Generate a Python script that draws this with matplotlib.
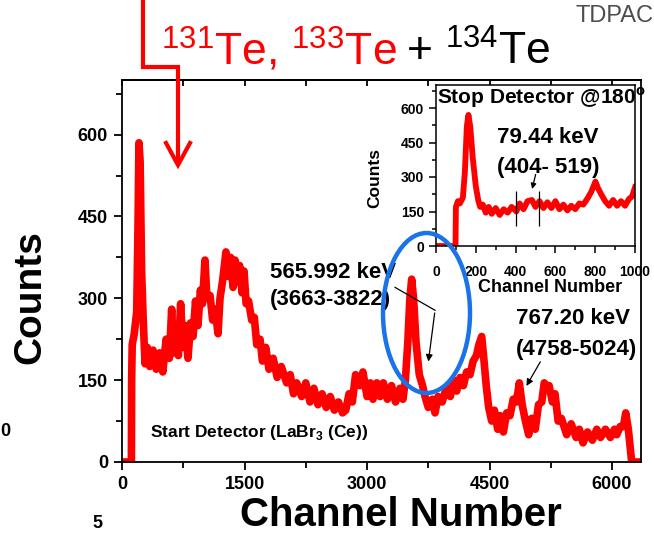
import numpy as np
import matplotlib
matplotlib.use("Agg")
from matplotlib import pyplot as plt
from matplotlib.ticker import MultipleLocator
from matplotlib.patches import Ellipse
from matplotlib.lines import Line2D

plt.rcParams['font.family'] = ['Liberation Sans', 'DejaVu Sans']
plt.rcParams['mathtext.fontset'] = 'custom'
plt.rcParams['mathtext.rm'] = 'Liberation Sans'
plt.rcParams['mathtext.bf'] = 'Liberation Sans:bold'

# start detector (LaBr3(Ce)) spectrum
start_channel = [0, 115, 118, 125, 150, 180, 195, 208, 222, 240, 260, 282, 310, 340, 380, 420,
                 460, 500, 540, 580, 608, 630, 660, 690, 718, 745, 775, 808, 840, 870, 900, 930,
                 960, 985, 1016, 1040, 1078, 1110, 1140, 1176, 1200, 1230, 1273, 1300, 1330, 1360,
                 1384, 1410, 1440, 1470, 1494, 1520, 1550, 1588, 1620, 1650, 1690, 1720, 1760, 1800,
                 1851, 1900, 1950, 2016, 2060, 2100, 2139, 2200, 2250, 2302, 2350, 2400, 2450, 2500,
                 2550, 2600, 2650, 2700, 2740, 2780, 2820, 2860, 2914, 2950, 3000, 3040, 3073, 3120,
                 3160, 3200, 3250, 3300, 3350, 3404, 3440, 3470, 3500, 3525, 3547, 3570, 3600, 3640,
                 3680, 3710, 3750, 3800, 3833, 3870, 3920, 3970, 4020, 4060, 4098, 4140, 4180, 4220,
                 4261, 4300, 4340, 4370, 4404, 4430, 4460, 4490, 4527, 4560, 4600, 4629, 4670, 4710,
                 4751, 4790, 4830, 4865, 4900, 4940, 4980, 5017, 5060, 5100, 5140, 5170, 5192, 5230,
                 5270, 5302, 5340, 5380, 5445, 5500, 5560, 5600, 5645, 5700, 5760, 5813, 5860, 5920,
                 5980, 6030, 6058, 6100, 6140, 6168, 6200, 6230, 6241, 6260, 6350]
start_counts = [0, 0, 150, 215, 235, 275, 420, 585, 550, 350, 260, 180, 210, 175, 205, 170,
                200, 165, 225, 190, 280, 200, 245, 195, 290, 210, 250, 190, 255, 230, 295, 250,
                315, 290, 370, 300, 305, 260, 280, 235, 300, 330, 385, 340, 375, 320,
                370, 330, 360, 310, 350, 290, 295, 260, 265, 215, 225, 185, 210, 170,
                190, 155, 175, 145, 160, 125, 145, 120, 145, 110, 135, 105, 125, 100,
                120, 95, 110, 90, 95, 125, 110, 160, 140, 165, 120, 145, 115, 145,
                120, 145, 115, 140, 110, 135, 115, 150, 220, 300, 335, 300, 220, 160,
                140, 120, 100, 115, 90, 120, 110, 135, 120, 150, 130, 155, 140, 165,
                160, 185, 195, 215, 230, 190, 140, 100, 75, 95, 60, 85, 55, 90,
                85, 115, 110, 145, 105, 75, 50, 80, 60, 105, 110, 145, 140, 140,
                110, 125, 75, 80, 50, 70, 45, 60, 35, 55, 40, 60, 45, 60,
                45, 60, 50, 65, 65, 90, 60, 15, 0, 0, 0]

# stop detector @180 deg spectrum (inset)
stop_channel = [0, 98, 100, 110, 120, 135, 145, 155, 163, 172, 185, 200, 212, 222, 235, 250,
                265, 280, 300, 320, 340, 360, 380, 404, 420, 440, 460, 482, 500, 520, 540, 560,
                580, 600, 620, 640, 660, 680, 700, 720, 740, 760, 780, 801, 815, 830, 850, 870,
                890, 910, 930, 950, 970, 985, 1000]
stop_counts = [0, 0, 170, 195, 185, 210, 320, 520, 570, 520, 380, 260, 200, 170, 180, 145,
               170, 140, 165, 135, 160, 145, 170, 150, 185, 160, 195, 200, 170, 195, 165, 190,
               165, 195, 160, 180, 155, 175, 160, 185, 180, 205, 235, 280, 250, 225, 195, 175,
               200, 175, 195, 175, 205, 215, 255]

gate_lo, gate_hi = 404, 519

W, H = 654, 534


def fx(px):
    return px / W


def fy(py):
    return 1 - py / H


fig = plt.figure(figsize=(W / 100, H / 100), dpi=100)

# main axes
ax = fig.add_axes([fx(122), fy(462), (641 - 122) / W, (462 - 80) / H])
ax.plot(start_channel, start_counts, color='red', lw=5.5, solid_joinstyle='round')
ax.set_xlim(0, 6355)
ax.set_ylim(0, 700)
ax.xaxis.set_major_locator(MultipleLocator(1500))
ax.xaxis.set_minor_locator(MultipleLocator(750))
ax.yaxis.set_major_locator(MultipleLocator(150))
ax.yaxis.set_minor_locator(MultipleLocator(75))
ax.tick_params(which='both', direction='out', width=1.3, labelsize=13, pad=4)
ax.tick_params(which='major', length=6)
ax.tick_params(which='minor', length=4)
for lbl in ax.get_xticklabels() + ax.get_yticklabels():
    lbl.set_fontweight('bold')
for sp in ax.spines.values():
    sp.set_linewidth(1.3)
top = ax.secondary_xaxis('top')
top.xaxis.set_major_locator(MultipleLocator(750))
top.tick_params(direction='in', length=4, width=1.3, labeltop=False)
top.spines['top'].set_linewidth(1.3)

fig.text(fx(30), fy(297), 'Counts', rotation=90, fontsize=28, fontweight='bold',
         ha='center', va='center')
fig.text(fx(401), fy(515), 'Channel Number', fontsize=29, fontweight='bold',
         ha='center', va='center')

fig.text(fx(150), fy(432), r'Start Detector (LaBr$_\mathbf{3}$ (Ce))', fontsize=12.5,
         fontweight='bold', ha='left', va='center')

# peak labels
fig.text(fx(270), fy(272), '565.992 keV', fontsize=16, fontweight='bold', va='center')
fig.text(fx(270), fy(300), '(3663-3822)', fontsize=16, fontweight='bold', va='center')
fig.text(fx(516), fy(318), '767.20 keV', fontsize=16, fontweight='bold', va='center')
fig.text(fx(516), fy(350), '(4758-5024)', fontsize=16, fontweight='bold', va='center')

ax.plot([3343, 3833], [320, 278], color='black', lw=0.9, clip_on=False, zorder=5)
ax.annotate('', xy=(3747, 179), xytext=(3833, 278),
            arrowprops=dict(arrowstyle='-|>', color='black', lw=0.9, mutation_scale=10))
ax.annotate('', xy=(4935, 135), xytext=(5139, 188),
            arrowprops=dict(arrowstyle='-|>', color='black', lw=0.9, mutation_scale=10))

# inset
ins = fig.add_axes([fx(436), fy(246), (635 - 436) / W, (246 - 85) / H])
ins.plot(stop_channel, stop_counts, color='red', lw=4.2, solid_joinstyle='round')
ins.set_xlim(0, 1000)
ins.set_ylim(0, 700)
ins.xaxis.set_major_locator(MultipleLocator(200))
ins.xaxis.set_minor_locator(MultipleLocator(100))
ins.yaxis.set_major_locator(MultipleLocator(150))
ins.yaxis.set_minor_locator(MultipleLocator(75))
ins.tick_params(which='both', direction='out', width=1.1, labelsize=10)
ins.tick_params(axis='x', which='both', pad=9)
ins.tick_params(which='major', length=5)
ins.tick_params(which='minor', length=3)
for lbl in ins.get_xticklabels() + ins.get_yticklabels():
    lbl.set_fontweight('bold')
for sp in ins.spines.values():
    sp.set_linewidth(1.1)
ins.vlines([gate_lo, gate_hi], 85, 240, color='black', lw=0.9)
ins.annotate('', xy=(480, 236), xytext=(504, 323),
             arrowprops=dict(arrowstyle='-|>', color='black', lw=0.9, mutation_scale=8))
fig.text(fx(437), fy(98), r'Stop Detector @180$^\mathbf{o}$', fontsize=15,
         fontweight='bold', ha='left', va='center')
fig.text(fx(548), fy(137), '79.44 keV', fontsize=16, fontweight='bold', ha='center', va='center')
fig.text(fx(548), fy(167), '(404- 519)', fontsize=16, fontweight='bold', ha='center', va='center')
fig.text(fx(375), fy(178), 'Counts', rotation=90, fontsize=12.5, fontweight='bold',
         ha='center', va='center')
fig.text(fx(550), fy(288), 'Channel Number', fontsize=13, fontweight='bold',
         ha='center', va='center')

# blue ellipse around the 566 keV peak
ell = Ellipse((fx(426.5), fy(313)), 87 / W, 160 / H, transform=fig.transFigure,
              fill=False, edgecolor='#1a73e8', lw=3.2, zorder=10)
fig.add_artist(ell)

# title
fig.text(fx(161), fy(65), r'$^{\mathrm{131}}$Te, $^{\mathrm{133}}$Te', fontsize=32,
         color='red', ha='left', va='baseline')
fig.text(fx(394), fy(65), r' + $^{\mathrm{134}}$Te', fontsize=32,
         color='black', ha='left', va='baseline')
fig.text(fx(576), fy(16), 'TDPAC', fontsize=17, color='#4d4d4d',
         ha='left', va='center')

# red bent arrow pointing at the spectrum
fig.add_artist(Line2D([fx(142.6), fx(142.6), fx(178), fx(178)],
                      [fy(-5), fy(67), fy(67), fy(163)], color='red', lw=3,
                      solid_joinstyle='miter', zorder=10))
fig.add_artist(Line2D([fx(166), fx(178), fx(190)], [fy(143), fy(165), fy(143)],
                      color='red', lw=3, solid_joinstyle='miter', zorder=10))

# labels from the neighbouring panel
fig.text(fx(0), fy(432), '0', fontsize=13, fontweight='bold', ha='left', va='center')
fig.text(fx(97), fy(524), '5', fontsize=13, fontweight='bold', ha='center', va='center')

fig.savefig('out.png', dpi=100)
